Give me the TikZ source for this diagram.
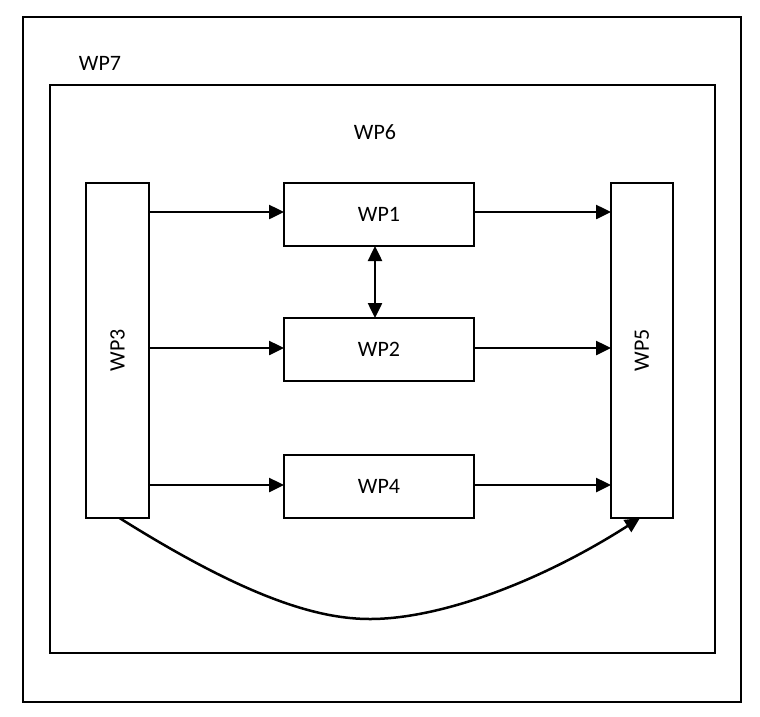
\documentclass[tikz,border=0pt]{standalone}
\usepackage{fontspec}
\setmainfont{Carlito}
\usetikzlibrary{arrows.meta}
\begin{document}
\begin{tikzpicture}[x=1pt,y=-1pt,
  frame/.style={draw,line width=1.8pt,inner sep=0pt,outer sep=0pt},
  wpbox/.style={draw,line width=1.8pt,inner sep=0pt,outer sep=0pt,font=\fontsize{22}{26}\selectfont},
  lbl/.style={font=\fontsize{22}{26}\selectfont,inner sep=0pt},
  conn/.style={line width=2.5pt,-{Triangle[length=15pt,width=14pt]}},
  dconn/.style={line width=2.5pt,{Triangle[length=15pt,width=14pt]}-{Triangle[length=15pt,width=14pt]}}]
\useasboundingbox (0,0) rectangle (760,716);
\node[frame,minimum width=718pt,minimum height=685pt] (outer) at (382,359.5) {};
\node[frame,minimum width=665pt,minimum height=568pt] (inner) at (382.5,369) {};
\node[lbl] (l7) at (100,63) {WP7};
\node[lbl] (l6) at (375,132) {WP6};
\node[wpbox,minimum width=63pt,minimum height=335pt] (wp3) at (117.5,350.5) {\rotatebox{90}{WP3}};
\node[wpbox,minimum width=62pt,minimum height=335pt] (wp5) at (642,350.5) {\rotatebox{90}{WP5}};
\node[wpbox,minimum width=190pt,minimum height=63pt] (wp1) at (379,214.5) {WP1};
\node[wpbox,minimum width=190pt,minimum height=63pt] (wp2) at (379,349.5) {WP2};
\node[wpbox,minimum width=190pt,minimum height=63pt] (wp4) at (379,486.5) {WP4};
\draw[conn] (wp3.east |- 0,212) -- (wp1.west |- 0,212);
\draw[conn] (wp3.east |- 0,348) -- (wp2.west |- 0,348);
\draw[conn] (wp3.east |- 0,485) -- (wp4.west |- 0,485);
\draw[conn] (wp1.east |- 0,212) -- (wp5.west |- 0,212);
\draw[conn] (wp2.east |- 0,348) -- (wp5.west |- 0,348);
\draw[conn] (wp4.east |- 0,485) -- (wp5.west |- 0,485);
\draw[dconn] ([xshift=-4pt]wp1.south) -- ([xshift=-4pt]wp2.north);
\coordinate (cs) at ([xshift=2pt]wp3.south);
\coordinate (ce) at ([xshift=-2pt]wp5.south);
\draw[line width=2.5pt,-{Triangle[length=15pt,width=14pt]}] (cs) .. controls (250,600) and (320,619) .. (370,619) .. controls (440,619) and (540,582) .. (ce);
\end{tikzpicture}
\end{document}
